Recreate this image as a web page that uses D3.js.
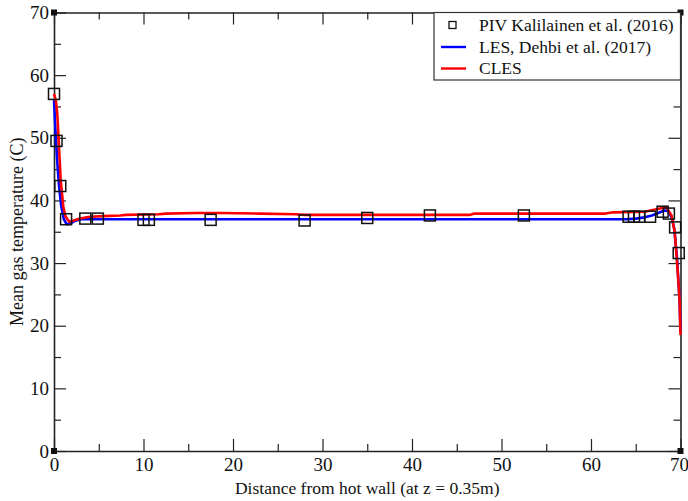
<!DOCTYPE html>
<html>
<head>
<meta charset="utf-8">
<script src="https://cdn.jsdelivr.net/npm/d3@7"></script>
<style>
  html, body { margin: 0; padding: 0; background: #fff; }
  svg { display: block; font-family: "Liberation Serif", "Times New Roman", serif; }
</style>
</head>
<body>
<svg id="chart" width="688" height="501"></svg>
<script>
// Mean gas temperature across the cavity, PIV measurement vs. two LES runs
const pivX = [0, 0.28, 0.7, 1.35, 3.5, 4.9, 10.0, 10.6, 17.5, 28.0, 35.0, 42.0, 52.5, 64.2, 64.8, 65.4, 66.6, 68.0, 68.7, 69.4, 69.8];
const pivY = [57.0, 49.5, 42.3, 37.0, 37.1, 37.1, 36.9, 36.9, 36.9, 36.8, 37.2, 37.6, 37.6, 37.4, 37.4, 37.4, 37.4, 38.2, 37.9, 35.7, 31.6];

const lesX = [0, 0.15, 0.35, 0.55, 0.8, 1.1, 1.4, 1.8, 2.3, 3.0, 10, 30, 50, 64, 65, 66, 66.8, 67.5, 68.2, 68.6, 69.0, 69.3, 69.6, 69.9, 70];
const lesY = [56.0, 51.5, 46.5, 42.5, 39.2, 37.0, 36.2, 36.3, 36.7, 37.0, 37.0, 37.0, 37.0, 37.0, 37.1, 37.3, 37.6, 38.0, 38.4, 38.3, 37.3, 35.5, 31.0, 24.0, 19.0];

const clesX = [0, 0.2, 0.37, 0.56, 0.75, 1.04, 1.3, 1.7, 2.2, 2.9, 4, 5.5, 7.4, 8, 11.7, 12.5, 16, 18.4, 23, 27, 28, 46.5, 47, 61.6, 62.5, 66, 67.7, 68.4, 69.0, 69.35, 69.65, 69.9, 70];
const clesY = [57.0, 56.0, 53.8, 48.5, 43.2, 39.0, 37.4, 36.6, 36.8, 37.1, 37.4, 37.5, 37.6, 37.7, 37.8, 37.9, 38.0, 38.0, 37.9, 37.8, 37.7, 37.7, 37.9, 37.9, 38.1, 38.2, 38.7, 38.9, 37.6, 35.0, 29.4, 24.1, 18.5];

const xTicks = [0, 10, 20, 30, 40, 50, 60, 70];
const yTicks = [0, 10, 20, 30, 40, 50, 60, 70];
const legendLabels = ["PIV Kalilainen et al. (2016)", "LES, Dehbi et al. (2017)", "CLES"];
const seriesColors = ["#000000", "#0000ff", "#ff0000"];

const svg = d3.select("#chart");
const L = 54, R = 680.5, T = 12.5, B = 451;

const x = d3.scaleLinear().domain([0, 70]).range([L, R]);
const y = d3.scaleLinear().domain([0, 70]).range([B, T]);

const axisColor = "#222";
const minorX = d3.range(5, 70, 10);
const minorY = d3.range(5, 70, 10);
const tickFont = "19px";

// Axes: ticks point inward on all four sides, majors labelled on bottom/left
function styleAxis(g) {
  g.select(".domain").attr("stroke", axisColor).attr("stroke-width", 1.6);
  g.selectAll(".tick line").attr("stroke", axisColor).attr("stroke-width", 1.2);
  g.selectAll(".tick text").attr("fill", "#111").style("font-size", tickFont)
    .style("font-family", '"Liberation Serif", "Times New Roman", serif');
}

const gx = svg.append("g").attr("transform", `translate(0,${B})`)
  .call(d3.axisBottom(x).tickValues(xTicks).tickSize(-12).tickFormat(d3.format("d")).tickSizeOuter(0));
styleAxis(gx);
gx.selectAll(".tick text").attr("dy", "0.71em").attr("y", 7);
// the last label sits against the page edge
gx.selectAll(".tick text").filter(d => d === 70).attr("text-anchor", "end").attr("x", 8);
svg.append("g").attr("transform", `translate(0,${B})`)
  .call(d3.axisBottom(x).tickValues(minorX).tickSize(-7).tickFormat("").tickSizeOuter(0))
  .call(styleAxis).select(".domain").remove();

const gt = svg.append("g").attr("transform", `translate(0,${T})`)
  .call(d3.axisTop(x).tickValues(xTicks).tickSize(-12).tickFormat("").tickSizeOuter(0));
styleAxis(gt);
svg.append("g").attr("transform", `translate(0,${T})`)
  .call(d3.axisTop(x).tickValues(minorX).tickSize(-7).tickFormat("").tickSizeOuter(0))
  .call(styleAxis).select(".domain").remove();

const gy = svg.append("g").attr("transform", `translate(${L},0)`)
  .call(d3.axisLeft(y).tickValues(yTicks).tickSize(-12).tickFormat(d3.format("d")).tickSizeOuter(0));
styleAxis(gy);
gy.selectAll(".tick text").attr("x", -5);
svg.append("g").attr("transform", `translate(${L},0)`)
  .call(d3.axisLeft(y).tickValues(minorY).tickSize(-7).tickFormat("").tickSizeOuter(0))
  .call(styleAxis).select(".domain").remove();

const gr = svg.append("g").attr("transform", `translate(${R},0)`)
  .call(d3.axisRight(y).tickValues(yTicks).tickSize(-12).tickFormat("").tickSizeOuter(0));
styleAxis(gr);
svg.append("g").attr("transform", `translate(${R},0)`)
  .call(d3.axisRight(y).tickValues(minorY).tickSize(-7).tickFormat("").tickSizeOuter(0))
  .call(styleAxis).select(".domain").remove();

// Small filled markers at the frame corners
[[0, 0], [0, 70], [70, 70], [70, 0]].forEach(([cx, cy]) => {
  svg.append("rect")
    .attr("x", x(cx) - 3).attr("y", y(cy) - 3)
    .attr("width", 6).attr("height", 6)
    .attr("fill", "#111");
});

// Axis titles
svg.append("text")
  .attr("x", (L + R) / 2).attr("y", 494)
  .attr("text-anchor", "middle")
  .style("font-size", "17.5px").attr("fill", "#111")
  .text("Distance from hot wall (at z = 0.35m)");

svg.append("text")
  .attr("transform", `translate(23,${(T + B) / 2}) rotate(-90)`)
  .attr("text-anchor", "middle")
  .style("font-size", "18px").attr("fill", "#111")
  .text("Mean gas temperature (C)");

// Simulation curves
const line = d3.line().x(d => x(d[0])).y(d => y(d[1]));
const lesData = lesX.map((v, i) => [v, lesY[i]]);
const clesData = clesX.map((v, i) => [v, clesY[i]]);

svg.append("path").datum(lesData)
  .attr("d", line).attr("fill", "none")
  .attr("stroke", seriesColors[1]).attr("stroke-width", 2.6)
  .attr("stroke-linejoin", "round");

svg.append("path").datum(clesData)
  .attr("d", line).attr("fill", "none")
  .attr("stroke", seriesColors[2]).attr("stroke-width", 2.6)
  .attr("stroke-linejoin", "round");

// Measurement points as open squares
const sq = 11;
svg.append("g").selectAll("rect")
  .data(pivX.map((v, i) => [v, pivY[i]]))
  .join("rect")
  .attr("x", d => x(d[0]) - sq / 2)
  .attr("y", d => y(d[1]) - sq / 2)
  .attr("width", sq).attr("height", sq)
  .attr("fill", "none").attr("stroke", "#111").attr("stroke-width", 1.5);

// Legend
const lg = svg.append("g");
lg.append("rect")
  .attr("x", 434).attr("y", T).attr("width", R - 434).attr("height", 80 - T)
  .attr("fill", "#fff").attr("stroke", "#333").attr("stroke-width", 1.2);

const rowY = [25, 47, 68.5];
legendLabels.forEach((label, i) => {
  if (i === 0) {
    lg.append("rect")
      .attr("x", 449).attr("y", rowY[i] - 3.5)
      .attr("width", 7).attr("height", 7)
      .attr("fill", "none").attr("stroke", "#111").attr("stroke-width", 1.3);
  } else {
    lg.append("line")
      .attr("x1", 441).attr("x2", 466)
      .attr("y1", rowY[i]).attr("y2", rowY[i])
      .attr("stroke", seriesColors[i]).attr("stroke-width", 2.4);
  }
  lg.append("text")
    .attr("x", 479).attr("y", rowY[i] + 5.5)
    .style("font-size", "17.5px").attr("fill", "#111")
    .text(label);
});
</script>
</body>
</html>
